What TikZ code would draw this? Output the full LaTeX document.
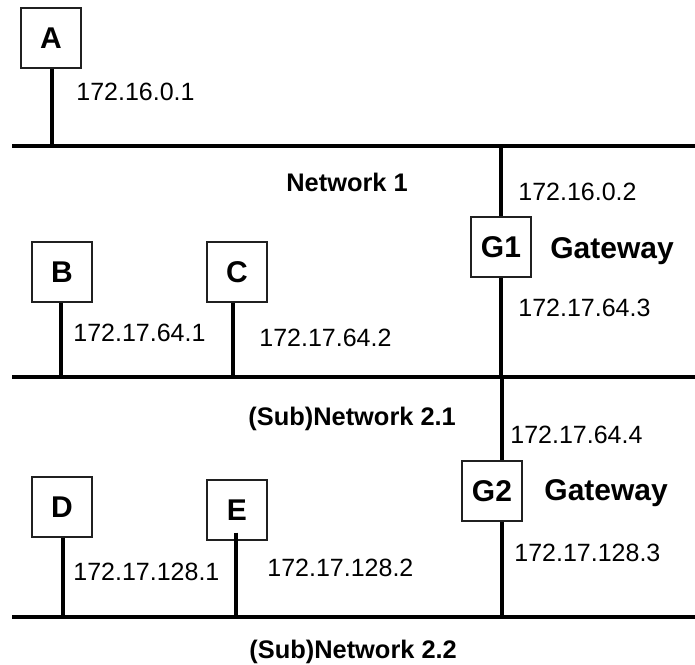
\documentclass[tikz,border=0pt]{standalone}
\usepackage{fontspec}
\setmainfont{Liberation Sans}
\usepackage{tikz}
\usetikzlibrary{positioning, calc}
\usepackage{xcolor}
\definecolor{nInk}{HTML}{000000}
\definecolor{nBox}{HTML}{202020}

\begin{document}
\begin{tikzpicture}[x=0.5pt, y=-0.5pt,
    net/.style={nInk, line width=2pt},
    stem/.style={nInk, line width=2pt},
    host/.style={draw=nBox, line width=0.6pt, minimum size=30pt, inner sep=0pt,
                 font=\fontsize{15}{18}\selectfont\bfseries},
    addr/.style={anchor=west, inner sep=0pt, font=\fontsize{12.5}{15}\selectfont},
    netname/.style={anchor=west, inner sep=0pt, text depth=0pt,
                    font=\fontsize{12.7}{15}\selectfont\bfseries},
    gwname/.style={anchor=west, inner sep=0pt, text depth=0pt,
                   font=\fontsize{15}{18}\selectfont\bfseries}]
  \useasboundingbox (0,0) rectangle (695,664);
  % the three network lines
  \coordinate (n1w) at (12,146);  \coordinate (n1e) at (695,146);
  \coordinate (n21w) at (12,377); \coordinate (n21e) at (695,377);
  \coordinate (n22w) at (12,617); \coordinate (n22e) at (695,617);
  \draw[net] (n1w) -- (n1e);
  \draw[net] (n21w) -- (n21e);
  \draw[net] (n22w) -- (n22e);
  \node[netname] (net1) at (286,182) {Network 1};
  \node[netname] (net21) at (248,416) {(Sub)Network 2.1};
  \node[netname] (net22) at (249,649) {(Sub)Network 2.2};
  % hosts
  \node[host] (A) at (51,38) {A};
  \node[host] (B) at (62,272) {B};
  \node[host] (C) at (237,272) {C};
  \node[host] (D) at (62,507) {D};
  \node[host] (E) at (237,510) {E};
  \node[host] (G1) at (501,247) {G1};
  \node[host] (G2) at (492,491) {G2};
  % taps on the lines
  \coordinate (a1) at (52,146);
  \coordinate (b1) at (61,377);
  \coordinate (c1) at (233,377);
  \coordinate (d1) at (63,617);
  \coordinate (e1) at (236,617);
  \coordinate (g1up) at (501,146);
  \coordinate (g1dn) at (501,377);
  \coordinate (g2up) at (502,377);
  \coordinate (g2dn) at (502,617);
  \draw[stem] (A.south -| a1) -- (a1);
  \draw[stem] (B.south -| b1) -- (b1);
  \draw[stem] (C.south -| c1) -- (c1);
  \draw[stem] (D.south -| d1) -- (d1);
  \draw[stem] ($(E.south -| e1)+(0,-8)$) -- (e1);
  \draw[stem] (g1up) -- (G1.north);
  \draw[stem] (G1.south) -- (g1dn);
  \draw[stem] (g2up) -- (G2.north -| g2up);
  \draw[stem] (G2.south -| g2dn) -- (g2dn);
  % addresses
  \node[addr] (ipA) at (76,92) {172.16.0.1};
  \node[addr] (ipG1a) at (518,192) {172.16.0.2};
  \node[addr] (ipG1b) at (518,308) {172.17.64.3};
  \node[addr] (ipB) at (73,333) {172.17.64.1};
  \node[addr] (ipC) at (259,338) {172.17.64.2};
  \node[addr] (ipG2a) at (510,435) {172.17.64.4};
  \node[addr] (ipG2b) at (514,553) {172.17.128.3};
  \node[addr] (ipD) at (73,572) {172.17.128.1};
  \node[addr] (ipE) at (267,568) {172.17.128.2};
  % gateway names
  \node[gwname] (gw1) at (550,248) {Gateway};
  \node[gwname] (gw2) at (544,490) {Gateway};
\end{tikzpicture}
\end{document}
